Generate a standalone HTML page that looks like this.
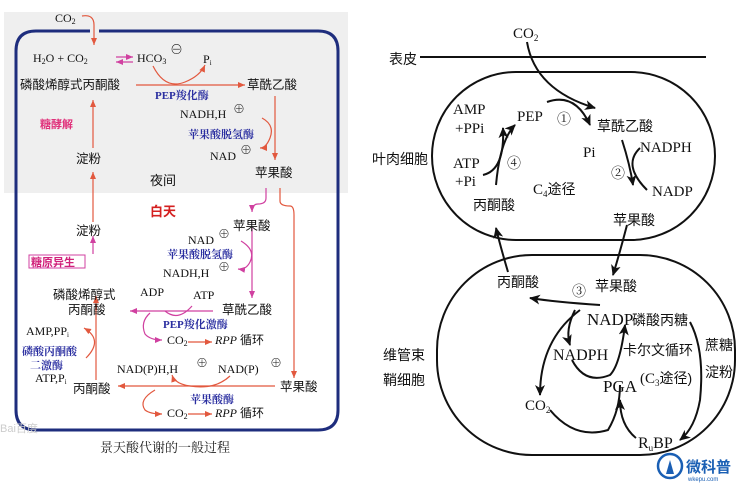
<!DOCTYPE html>
<html><head><meta charset="utf-8"><style>
body{margin:0;background:#fff}
svg{display:block}
text{font-family:"Liberation Serif","Noto Serif CJK SC",serif}
.s{font-family:"Liberation Sans","Noto Sans CJK SC",sans-serif}
</style></head><body>
<svg width="748" height="484" viewBox="0 0 748 484" xmlns="http://www.w3.org/2000/svg">
<defs>
<marker id="r" markerWidth="8" markerHeight="8" refX="7" refY="4" orient="auto" markerUnits="userSpaceOnUse"><path d="M0,1 L7,4 L0,7z" fill="#e2583e"/></marker>
<marker id="m" markerWidth="8" markerHeight="8" refX="7" refY="4" orient="auto" markerUnits="userSpaceOnUse"><path d="M0,1 L7,4 L0,7z" fill="#d040a0"/></marker>
<marker id="k" markerWidth="12" markerHeight="10" refX="10" refY="5" orient="auto" markerUnits="userSpaceOnUse"><path d="M0,0 L11,5 L0,10 L3,5z" fill="#111"/></marker>
</defs>
<!-- LEFT -->
<rect x="4" y="12" width="344" height="181" fill="#efefef"/>
<path d="M90,31 H36 Q16,31 16,51 V410 Q16,430 36,430 H318 Q338,430 338,410 V51 Q338,31 318,31 H99" fill="none" stroke="#1e2d7d" stroke-width="3"/>
<g fill="none" stroke="#e2583e" stroke-width="1.2">
<path d="M82,16 Q94,14 94,25 V45" marker-end="url(#r)"/>
<path d="M153,66 Q165,90 185,82 Q200,76 205,65" marker-end="url(#r)"/>
<path d="M136,85 H245" marker-end="url(#r)"/>
<path d="M275,96 V160" marker-end="url(#r)"/>
<path d="M262,118 Q275,125 270,138 Q266,148 260,148" marker-end="url(#r)"/>
<path d="M93,148 V100" marker-end="url(#r)"/>
<path d="M93,222 V172" marker-end="url(#r)"/>
<path d="M280,188 V201 Q280,206 290,206 Q294,206 294,215 V378" marker-end="url(#r)"/>
<path d="M96,380 V296" marker-end="url(#r)"/>
<path d="M86,358 Q104,340 84,328" marker-end="url(#r)"/>
<path d="M275,386 H118" marker-end="url(#r)"/>
<path d="M230,376 Q215,390 190,386 Q175,384 172,375" marker-end="url(#r)"/>
<path d="M155,390 Q138,400 145,410 Q150,414 162,414" marker-end="url(#r)"/>
<path d="M188,414 H212" marker-end="url(#r)"/>
<path d="M188,342 H212" marker-end="url(#r)"/>
</g>
<g fill="none" stroke="#d040a0" stroke-width="1.2">
<path d="M116,57 H133" marker-end="url(#m)"/>
<path d="M133,62 H116" marker-end="url(#m)"/>
<path d="M266,188 V198 Q266,204 258,204 Q252,204 252,212" marker-end="url(#m)"/>
<path d="M252,228 V298" marker-end="url(#m)"/>
<path d="M241,241 Q256,250 250,262 Q246,270 238,269" marker-end="url(#m)"/>
<path d="M93,254 V236" marker-end="url(#m)"/>
<path d="M213,311 H130" marker-end="url(#m)"/>
<path d="M165,311 Q178,322 192,306" />
<path d="M150,313 Q140,322 145,334 Q150,340 162,340" marker-end="url(#m)"/>
</g>
<g font-size="12" fill="#111">
<text x="55" y="22">CO<tspan font-size="8" dy="2">2</tspan></text>
<text x="33" y="62">H<tspan font-size="8" dy="2">2</tspan><tspan dy="-2">O + CO</tspan><tspan font-size="8" dy="2">2</tspan></text>
<text x="137" y="62">HCO<tspan font-size="8" dy="2">3</tspan></text>
<text x="170" y="54" font-size="13">⊖</text>
<text x="203" y="63">P<tspan font-size="7" dy="2">i</tspan></text>
<text x="20" y="89" class="s" font-size="12.5">磷酸烯醇式丙酮酸</text>
<text x="247" y="89" class="s" font-size="12.5">草酰乙酸</text>
<text x="180" y="118">NADH,H</text><text x="233" y="113" font-size="12">⊕</text>
<text x="210" y="160">NAD</text><text x="240" y="154" font-size="12">⊕</text>
<text x="76" y="163" class="s" font-size="12.5">淀粉</text>
<text x="255" y="177" class="s" font-size="12.5">苹果酸</text>
<text x="150" y="185" class="s" font-size="13">夜间</text>
<text x="76" y="235" class="s" font-size="12.5">淀粉</text>
<text x="233" y="230" class="s" font-size="12.5">苹果酸</text>
<text x="188" y="244">NAD</text><text x="218" y="238" font-size="12">⊕</text>
<text x="163" y="277">NADH,H</text><text x="218" y="271" font-size="12">⊕</text>
<text x="53" y="299" class="s" font-size="12.5">磷酸烯醇式</text>
<text x="68" y="314" class="s" font-size="12.5">丙酮酸</text>
<text x="140" y="296">ADP</text><text x="193" y="299">ATP</text>
<text x="222" y="314" class="s" font-size="12.5">草酰乙酸</text>
<text x="167" y="344">CO<tspan font-size="8" dy="2">2</tspan></text>
<text x="215" y="344"><tspan font-style="italic">RPP</tspan> <tspan class="s">循环</tspan></text>
<text x="26" y="335">AMP,PP<tspan font-size="7" dy="2">i</tspan></text>
<text x="35" y="382">ATP,P<tspan font-size="7" dy="2">i</tspan></text>
<text x="117" y="373">NAD(P)H,H</text><text x="196" y="367" font-size="12">⊕</text>
<text x="218" y="373">NAD(P)</text><text x="270" y="367" font-size="12">⊕</text>
<text x="73" y="393" class="s" font-size="12.5">丙酮酸</text>
<text x="280" y="391" class="s" font-size="12.5">苹果酸</text>
<text x="167" y="417">CO<tspan font-size="8" dy="2">2</tspan></text>
<text x="215" y="417"><tspan font-style="italic">RPP</tspan> <tspan class="s">循环</tspan></text>
</g>
<g class="s" font-size="11" fill="#2a2ea0" font-weight="bold">
<text x="155" y="99">PEP羧化酶</text>
<text x="188" y="138">苹果酸脱氢酶</text>
<text x="167" y="258">苹果酸脱氢酶</text>
<text x="163" y="328">PEP羧化激酶</text>
<text x="22" y="355">磷酸丙酮酸</text>
<text x="30" y="369">二激酶</text>
<text x="190" y="403">苹果酸酶</text>
</g>
<text x="40" y="128" class="s" font-size="11" fill="#e0307a" font-weight="bold">糖酵解</text>
<text x="150" y="216" class="s" font-size="13" fill="#d42020" font-weight="bold">白天</text>
<rect x="29" y="255" width="56" height="13" fill="#fff" stroke="#d040a0"/>
<text x="31" y="266" class="s" font-size="11" fill="#d0207a" font-weight="bold">糖原异生</text>
<text x="0" y="432" class="s" font-size="11" fill="#ccc">Bai百度</text>
<text x="100" y="452" font-size="13" fill="#222">景天酸代谢的一般过程</text>
<!-- RIGHT -->
<line x1="420" y1="57" x2="706" y2="57" stroke="#111" stroke-width="2"/>
<rect x="432" y="72" width="283" height="168" rx="84" fill="none" stroke="#111" stroke-width="2"/>
<rect x="437" y="255" width="298" height="200" rx="95" fill="none" stroke="#111" stroke-width="2"/>
<g fill="none" stroke="#111" stroke-width="2">
<path d="M527,42 Q535,90 595,108" marker-end="url(#k)"/>
<path d="M547,102 Q575,92 590,125" marker-end="url(#k)"/>
<path d="M622,140 Q630,165 633,185" marker-end="url(#k)"/>
<path d="M640,148 Q622,165 647,190"/>
<path d="M627,225 Q620,252 613,275" marker-end="url(#k)"/>
<path d="M496,185 Q500,140 515,125" marker-end="url(#k)"/>
<path d="M483,175 Q505,170 503,128" marker-end="url(#k)"/>
<path d="M508,272 Q500,245 496,228" marker-end="url(#k)"/>
<path d="M600,305 Q555,302 530,298" marker-end="url(#k)"/>
<path d="M580,310 Q540,340 540,395" marker-end="url(#k)"/>
<path d="M575,310 Q565,330 570,345" marker-end="url(#k)"/>
<path d="M572,360 Q585,385 610,375 Q620,365 625,325" marker-end="url(#k)"/>
<path d="M550,410 Q575,440 608,430 Q620,410 620,385"/>
<path d="M636,438 Q620,425 620,400" marker-end="url(#k)"/>
<path d="M690,322 Q705,350 700,400 Q695,428 680,440" marker-end="url(#k)"/>
</g>
<g font-size="15" fill="#111">
<text x="513" y="38">CO<tspan font-size="9" dy="3">2</tspan></text>
<text x="389" y="64" class="s" font-size="14">表皮</text>
<text x="372" y="164" class="s" font-size="14">叶肉细胞</text>
<text x="453" y="114">AMP</text>
<text x="455" y="133">+PPi</text>
<text x="517" y="121">PEP</text>
<text x="557" y="124" font-size="14">①</text>
<text x="597" y="131" class="s" font-size="14">草酰乙酸</text>
<text x="583" y="157">Pi</text>
<text x="640" y="152">NADPH</text>
<text x="453" y="168">ATP</text>
<text x="455" y="186">+Pi</text>
<text x="507" y="168" font-size="14">④</text>
<text x="533" y="194">C<tspan font-size="9" dy="3">4</tspan><tspan class="s" font-size="14" dy="-3">途径</tspan></text>
<text x="611" y="178" font-size="14">②</text>
<text x="652" y="196">NADP</text>
<text x="473" y="210" class="s" font-size="14">丙酮酸</text>
<text x="613" y="225" class="s" font-size="14">苹果酸</text>
<text x="497" y="287" class="s" font-size="14">丙酮酸</text>
<text x="572" y="296" font-size="14">③</text>
<text x="595" y="291" class="s" font-size="14">苹果酸</text>
<text x="587" y="325" font-size="17">NADP</text>
<text x="632" y="325" class="s" font-size="14">磷酸丙糖</text>
<text x="553" y="360" font-size="16">NADPH</text>
<text x="623" y="355" class="s" font-size="14">卡尔文循环</text>
<text x="640" y="383">(C<tspan font-size="9" dy="3">3</tspan><tspan class="s" font-size="14" dy="-3">途径)</tspan></text>
<text x="705" y="350" class="s" font-size="14">蔗糖</text>
<text x="705" y="377" class="s" font-size="14">淀粉</text>
<text x="603" y="392" font-size="17">PGA</text>
<text x="525" y="410">CO<tspan font-size="9" dy="3">2</tspan></text>
<text x="638" y="448" font-size="16">R<tspan font-size="9" dy="3">u</tspan><tspan dy="-3">BP</tspan></text>
<text x="383" y="360" class="s" font-size="14">维管束</text>
<text x="383" y="385" class="s" font-size="14">鞘细胞</text>
</g>
<circle cx="670" cy="466" r="12" fill="none" stroke="#1a5fb4" stroke-width="2.5"/>
<path d="M666,474 L670,460 L674,474z" fill="#1a5fb4"/>
<text x="686" y="472" class="s" font-size="15" fill="#1a5fb4" font-weight="bold">微科普</text>
<text x="688" y="481" class="s" font-size="6" fill="#1a5fb4">wkepu.com</text>
</svg>
</body></html>
